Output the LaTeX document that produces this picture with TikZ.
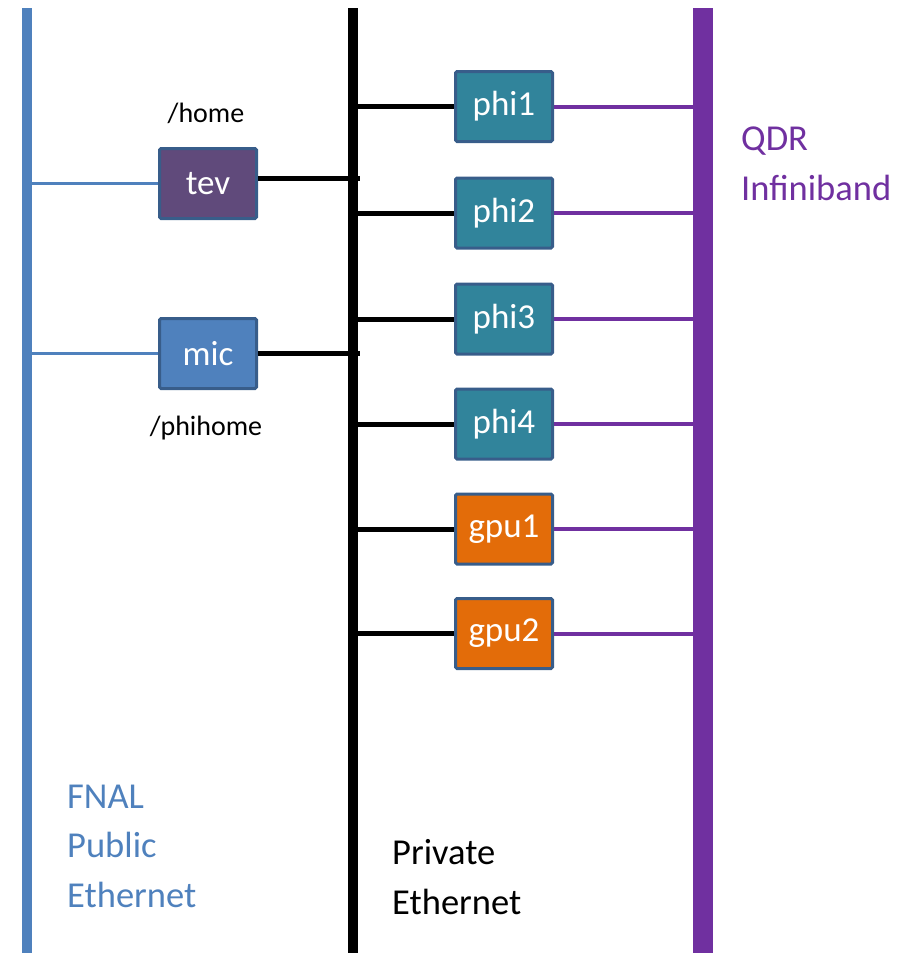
\documentclass[tikz,border=0pt]{standalone}
\usepackage{fontspec}
\setmainfont{Carlito}
\definecolor{busblue}{HTML}{4F81BD}
\definecolor{buspurple}{HTML}{7030A0}
\definecolor{boxedge}{HTML}{385D8A}
\definecolor{phifill}{HTML}{31849B}
\definecolor{tevfill}{HTML}{604A7B}
\definecolor{micfill}{HTML}{4F81BD}
\definecolor{gpufill}{HTML}{E36C09}
\begin{document}
\begin{tikzpicture}[x=1pt,y=-1pt,
  host/.style={draw=boxedge, line width=3pt, rounded corners=1.5pt, minimum width=97pt, minimum height=70pt, inner sep=0pt, text=white, font=\fontsize{35}{42}\selectfont},
  bigtext/.style={font=\fontsize{36.5}{49.5}\selectfont, align=left, inner sep=0pt},
  smalltext/.style={font=\fontsize{28}{34}\selectfont, inner sep=0pt},
  publine/.style={busblue, line width=3pt},
  privline/.style={black, line width=5pt},
  ibline/.style={buspurple, line width=4pt}]
\useasboundingbox (0,0) rectangle (910,953);
% buses
\coordinate (pubtop) at (27,8);   \coordinate (pubbot) at (27,953);
\coordinate (privtop) at (353,8); \coordinate (privbot) at (353,953);
\coordinate (ibtop) at (703,8);   \coordinate (ibbot) at (703,953);
\draw[busblue, line width=10pt] (pubtop) -- (pubbot);
\draw[black, line width=10pt] (privtop) -- (privbot);
\draw[buspurple, line width=20pt] (ibtop) -- (ibbot);
% front-end hosts
\node[host, fill=tevfill] (tev) at (208,183.5) {tev};
\node[host, fill=micfill] (mic) at (208,353.5) {mic};
\node[smalltext] (home) at (206,113) {/home};
\node[smalltext] (phihome) at (206,428) {/phihome};
\coordinate (tevpub) at (27,183.5);
\coordinate (micpub) at (27,353.5);
\coordinate (tevpriv) at (360,178.5);
\coordinate (micpriv) at (360,353.5);
\draw[publine] (tevpub) -- (tev.west);
\draw[publine] (micpub) -- (mic.west);
\draw[privline] ([yshift=5pt]tev.east) -- (tevpriv);
\draw[privline] (mic.east) -- (micpriv);
% compute nodes
\foreach \n/\y/\f in {phi1/106.5/phifill, phi2/213/phifill, phi3/319/phifill, phi4/424/phifill, gpu1/529/gpufill, gpu2/633.5/gpufill}{
  \node[host, fill=\f] (\n) at (504,\y) {\n};
  \coordinate (\n priv) at (353,\y);
  \coordinate (\n ib) at (703,\y);
  \draw[privline] (\n priv) -- (\n.west);
  \draw[ibline] (\n.east) -- (\n ib);
}
% labels
\node[bigtext, text=busblue, anchor=west] (fnal) at (67,846) {FNAL\\Public\\Ethernet};
\node[bigtext, text=black, anchor=west] (priv) at (392,877) {Private\\Ethernet};
\node[bigtext, text=buspurple, anchor=west] (qdr) at (741,164) {QDR\\Infiniband};
\end{tikzpicture}
\end{document}
